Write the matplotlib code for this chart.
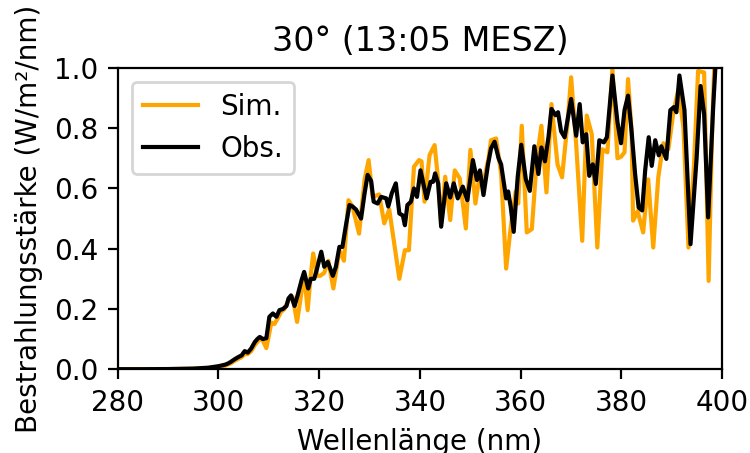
import matplotlib
matplotlib.use("Agg")
import matplotlib.pyplot as plt

title = "30° (13:05 MESZ)"
xlabel = "Wellenlänge (nm)"
ylabel = "Bestrahlungsstärke (W/m²/nm)"
xticks = [280, 300, 320, 340, 360, 380, 400]
yticks = [0.0, 0.2, 0.4, 0.6, 0.8, 1.0]

obs_wl = [280, 285, 290, 295, 298, 300, 301.3, 301.9, 302.5, 303.2, 303.9, 304.6, 305.2, 305.8,
          306.5, 307.2, 307.7, 308.2, 308.8, 309.5, 310.1, 310.8, 311.5, 312.1, 312.8, 313.5,
          313.9, 314.4, 315.1, 315.7, 316.5, 317.0, 317.8, 318.3, 319.0, 319.5, 320.4, 321.0,
          321.7, 322.7, 323.3, 324.0, 324.6, 325.3, 326.0, 326.6, 327.3, 328.3, 329.0, 329.6,
          330.3, 330.8, 331.6, 332.3, 333.3, 333.7, 334.4, 335.2, 335.9, 336.6, 337.0, 337.5,
          338.2, 338.8, 339.4, 340.1, 341.3, 342.1, 342.6, 343.0, 343.6, 344.2, 345.2, 346.0,
          346.7, 347.5, 348.5, 349.4, 350.5, 351.3, 351.9, 352.6, 353.5, 354.1, 354.8, 355.6,
          356.1, 357.1, 357.5, 358.0, 358.6, 359.4, 360.1, 361.0, 361.8, 362.7, 363.5, 364.1,
          364.8, 365.5, 366.1, 366.9, 367.4, 368.0, 368.7, 370.0, 371.0, 371.7, 372.3, 373.0,
          373.6, 374.3, 374.9, 375.6, 376.5, 377.1, 378.2, 379.2, 379.9, 380.6, 381.3, 382.0,
          382.7, 383.4, 384.1, 384.7, 385.4, 386.0, 386.7, 387.4, 387.9, 388.9, 389.7, 390.4,
          390.9, 391.5, 392.5, 393.7, 394.9, 395.7, 396.4, 397.2, 398.2, 398.8, 399.5, 400]
obs_val = [0, 0, 0.0005, 0.002, 0.005, 0.01, 0.015, 0.019, 0.025, 0.033, 0.04, 0.046, 0.06, 0.055,
           0.069, 0.09, 0.10, 0.107, 0.10, 0.103, 0.174, 0.185, 0.174, 0.196, 0.20, 0.21,
           0.235, 0.245, 0.21, 0.245, 0.296, 0.323, 0.268, 0.30, 0.30, 0.33, 0.39, 0.34,
           0.356, 0.31, 0.34, 0.406, 0.406, 0.478, 0.545, 0.54, 0.53, 0.50, 0.584, 0.645,
           0.625, 0.556, 0.55, 0.572, 0.567, 0.54, 0.584, 0.617, 0.517, 0.51, 0.478, 0.545,
           0.556, 0.60, 0.572, 0.66, 0.567, 0.622, 0.622, 0.65, 0.617, 0.473, 0.617, 0.57,
           0.617, 0.567, 0.606, 0.561, 0.694, 0.628, 0.66, 0.578, 0.68, 0.733, 0.755, 0.70,
           0.68, 0.567, 0.59, 0.54, 0.456, 0.639, 0.745, 0.631, 0.592, 0.74, 0.648, 0.736,
           0.69, 0.77, 0.864, 0.843, 0.853, 0.79, 0.77, 0.897, 0.775, 0.88, 0.753, 0.78,
           0.642, 0.68, 0.615, 0.76, 0.753, 0.77, 0.975, 0.82, 0.75, 0.86, 0.908, 0.79,
           0.648, 0.537, 0.527, 0.66, 0.77, 0.675, 0.76, 0.71, 0.74, 0.698, 0.86, 0.87,
           0.853, 0.975, 0.86, 0.415, 0.698, 0.94, 0.847, 0.504, 0.87, 1.05, 1.2, 1.3]

sim_wl = [280, 285, 290, 295, 298, 300, 301.3, 302.5, 303.2, 304.0, 304.6, 305.2, 305.8, 306.5,
          307.2, 307.7, 308.2, 308.8, 309.5, 310.5, 311.1, 311.8, 312.4, 313.1, 313.9, 314.7,
          315.6, 316.4, 317.0, 317.7, 318.3, 318.8, 319.6, 320.2, 321.0, 321.8, 322.8, 323.3,
          324.0, 324.9, 325.8, 326.6, 327.9, 329.0, 329.8, 330.6, 331.9, 332.9, 333.9, 335.9,
          337.0, 337.8, 338.8, 339.8, 340.3, 340.9, 341.9, 342.9, 343.6, 344.2, 345.0, 346.0,
          346.9, 347.9, 349.1, 350.0, 351.0, 351.8, 352.6, 353.6, 354.1, 355.1, 356.1, 357.1,
          358.0, 359.0, 359.5, 360.2, 361.2, 362.2, 363.2, 364.1, 365.1, 366.1, 367.3, 368.2,
          369.3, 370.0, 371.0, 372.2, 373.1, 374.1, 375.2, 376.2, 377.2, 378.2, 379.2, 379.9,
          380.6, 381.3, 382.0, 382.3, 383.2, 384.3, 385.3, 386.3, 387.3, 388.3, 389.3, 390.3,
          391.3, 392.3, 393.3, 394.4, 395.2, 396.4, 397.3, 398.0, 398.5, 399.5, 400]
sim_val = [0, 0, 0.0003, 0.0015, 0.004, 0.008, 0.012, 0.02, 0.028, 0.035, 0.04, 0.05, 0.05, 0.06,
           0.08, 0.09, 0.10, 0.095, 0.07, 0.155, 0.15, 0.17, 0.19, 0.20, 0.23, 0.24,
           0.157, 0.247, 0.32, 0.196, 0.31, 0.384, 0.31, 0.31, 0.32, 0.36, 0.268, 0.32,
           0.395, 0.36, 0.561, 0.54, 0.45, 0.63, 0.694, 0.572, 0.58, 0.484, 0.53, 0.30,
           0.395, 0.395, 0.672, 0.694, 0.69, 0.556, 0.711, 0.744, 0.628, 0.483, 0.639, 0.495,
           0.66, 0.633, 0.467, 0.728, 0.55, 0.639, 0.62, 0.70, 0.76, 0.766, 0.65, 0.334,
           0.47, 0.59, 0.55, 0.808, 0.454, 0.465, 0.70, 0.808, 0.587, 0.88, 0.68, 0.637,
           0.82, 0.969, 0.747, 0.426, 0.842, 0.78, 0.404, 0.73, 0.72, 0.997, 0.70, 0.705,
           0.72, 0.963, 0.79, 0.493, 0.525, 0.454, 0.63, 0.404, 0.637, 0.75, 0.73, 0.853,
           0.93, 0.80, 0.404, 0.68, 0.99, 0.985, 0.293, 0.80, 1.05, 1.3, 1.4]

DPI = 200
fig = plt.figure(figsize=(750 / DPI, 453 / DPI), dpi=DPI)
ax = fig.add_axes([0.157, 0.185, 0.806, 0.665])
ax.plot(sim_wl, sim_val, color="orange", label="Sim.")
ax.plot(obs_wl, obs_val, color="black", label="Obs.")
ax.set_xlim(280, 400)
ax.set_ylim(0, 1.0)
ax.set_xticks(xticks)
ax.set_yticks(yticks)
ax.set_xlabel(xlabel)
ax.set_ylabel(ylabel)
ax.set_title(title)
ax.legend(loc="upper left")
fig.savefig("out.png", dpi=DPI)
